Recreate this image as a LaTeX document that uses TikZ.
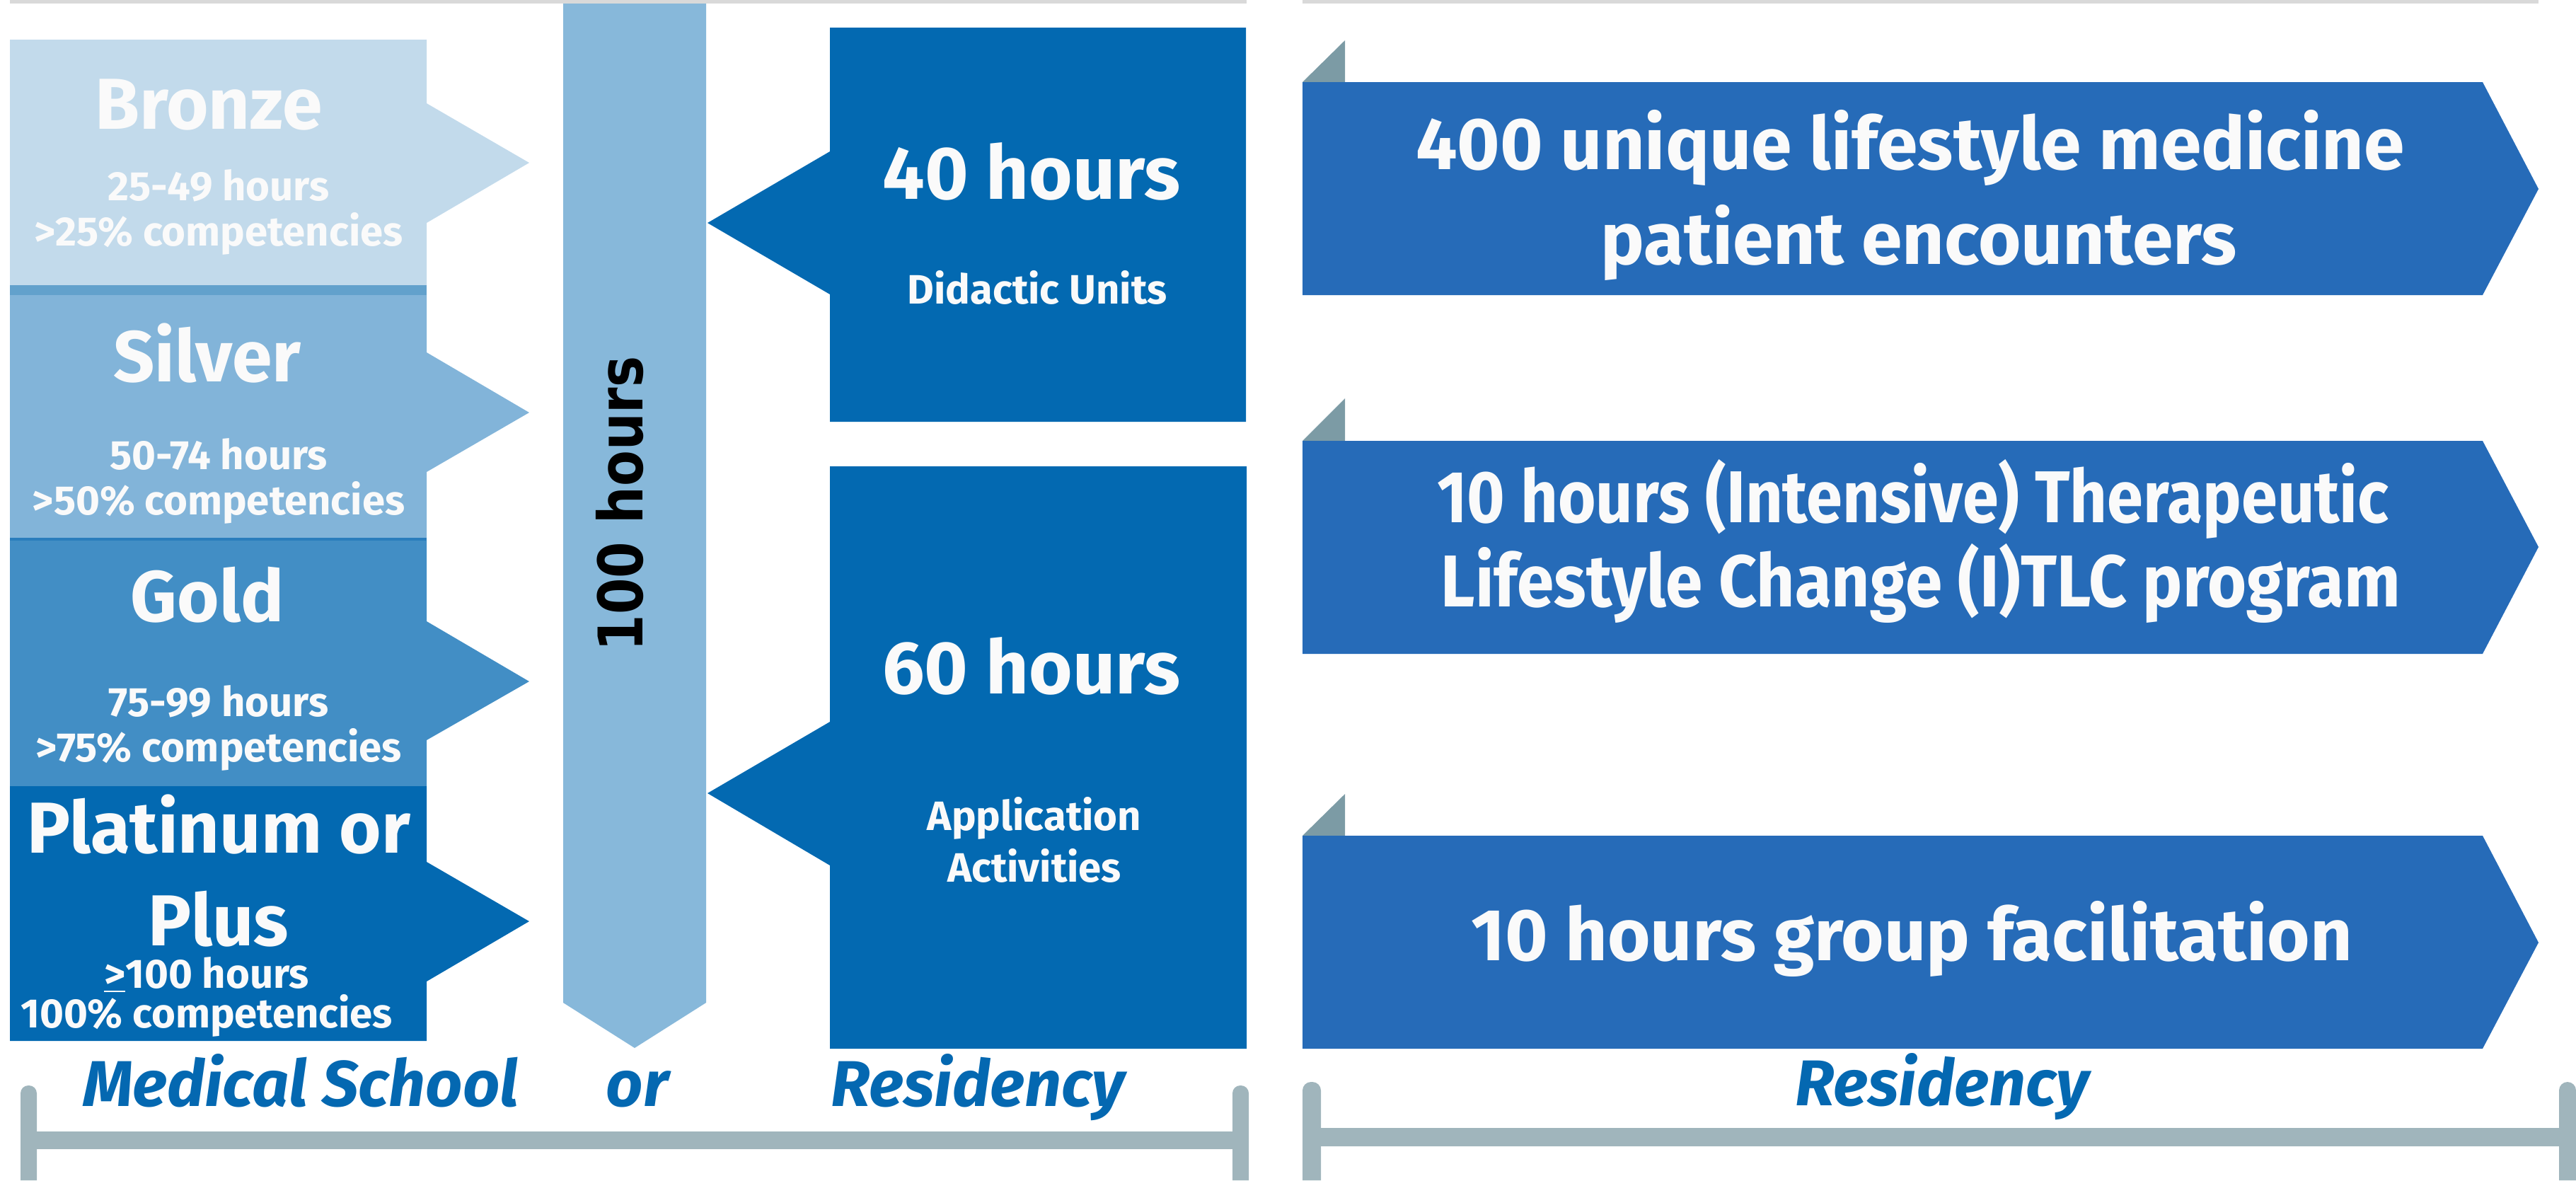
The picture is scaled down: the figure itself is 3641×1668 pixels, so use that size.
\documentclass[tikz,border=0pt]{standalone}
\usepackage{fontspec}
\setmainfont{Fira Sans}
\newfontfamily\hfont{DejaVu Sans}
\definecolor{bronze}{HTML}{C2DAEB}
\definecolor{sepA}{HTML}{62A1CC}
\definecolor{silver}{HTML}{82B4D9}
\definecolor{sepB}{HTML}{2A7DBC}
\definecolor{gold}{HTML}{428EC5}
\definecolor{plat}{HTML}{0369B1}
\definecolor{barc}{HTML}{87B8DA}
\definecolor{resb}{HTML}{266BB8}
\definecolor{fold}{HTML}{7C9BA5}
\definecolor{brk}{HTML}{A0B5BC}
\definecolor{topl}{HTML}{D9D9D9}
\definecolor{lab}{HTML}{0468B1}
\definecolor{txt}{HTML}{FAFAFA}
\tikzset{
  ttl/.style={font=\bfseries\fontsize{29pt}{34pt}\selectfont, text=txt, inner sep=0pt, anchor=base},
  tln/.style={font=\bfseries\fontsize{16.5pt}{20pt}\selectfont, text=txt, inner sep=0pt, anchor=base},
  big/.style={font=\bfseries\fontsize{30pt}{36pt}\selectfont, text=txt, inner sep=0pt, anchor=base},
  rtx/.style={font=\bfseries\fontsize{29.5pt}{36pt}\selectfont, text=txt, inner sep=0pt, anchor=base},
  lbl/.style={font=\bfseries\itshape\fontsize{26pt}{30pt}\selectfont, text=lab, inner sep=0pt, anchor=base},
}
\begin{document}
\begin{tikzpicture}[x=0.01cm, y=-0.01cm]
\useasboundingbox (0,0) rectangle (3641,1668);
% top grey lines
\fill[topl] (14,0) rectangle (1762,5);
\fill[topl] (1841,0) rectangle (3588,5);
% tiers
\fill[bronze] (14,56) -- (603,56) -- (603,146) -- (748,230) -- (603,315) -- (603,403) -- (14,403) -- cycle;
\fill[sepA] (14,403) rectangle (603,417);
\fill[silver] (14,417) -- (603,417) -- (603,498) -- (748,583) -- (603,667) -- (603,760) -- (14,760) -- cycle;
\fill[sepB] (14,760) rectangle (603,764);
\fill[gold] (14,764) -- (603,764) -- (603,878) -- (748,963) -- (603,1046) -- (603,1111) -- (14,1111) -- cycle;
\fill[plat] (14,1111) -- (603,1111) -- (603,1218) -- (748,1302) -- (603,1387) -- (603,1471) -- (14,1471) -- cycle;
% 100 hours bar
\fill[barc] (796,5) -- (998,5) -- (998,1417) -- (897,1481) -- (796,1417) -- cycle;
% 40 / 60 boxes
\fill[plat] (1173,39) -- (1761,39) -- (1761,596) -- (1173,596) -- (1173,416) -- (1000,315) -- (1173,214) -- cycle;
\fill[plat] (1173,659) -- (1762,659) -- (1762,1482) -- (1173,1482) -- (1173,1223) -- (1000,1121) -- (1173,1020) -- cycle;
% residency arrows
\fill[fold] (1841,116) -- (1901,57) -- (1901,116) -- cycle;
\fill[resb] (1841,116) -- (3509,116) -- (3588,267) -- (3509,417) -- (1841,417) -- cycle;
\fill[fold] (1841,623) -- (1901,563) -- (1901,623) -- cycle;
\fill[resb] (1841,623) -- (3509,623) -- (3588,773) -- (3509,924) -- (1841,924) -- cycle;
\fill[fold] (1841,1181) -- (1901,1122) -- (1901,1181) -- cycle;
\fill[resb] (1841,1181) -- (3509,1181) -- (3588,1332) -- (3509,1482) -- (1841,1482) -- cycle;
% brackets
\fill[brk] (29,1668) [rounded corners=0.11cm] -- (29,1534) -- (52,1534) [sharp corners] -- (52,1668) -- cycle;
\fill[brk] (1742,1668) [rounded corners=0.11cm] -- (1742,1534) -- (1765,1534) [sharp corners] -- (1765,1668) -- cycle;
\fill[brk] (29,1599) rectangle (1765,1624);
\fill[brk] (1841,1668) [rounded corners=0.12cm] -- (1841,1529) -- (1867,1529) [sharp corners] -- (1867,1668) -- cycle;
\fill[brk] (3617,1668) [rounded corners=0.12cm] -- (3617,1529) -- (3641,1529) [sharp corners] -- (3641,1668) -- cycle;
\fill[brk] (1841,1594) rectangle (3641,1620);
% tier texts
\node[ttl] (bz) at (295,182) {Bronze};
\node[tln] (bz1) at (309,283) {25-49 hours};
\node[tln] (bz2) at (309,347) {>25\% competencies};
\node[ttl] (sv) at (293,539) {Silver};
\node[tln] (sv1) at (309,663) {50-74 hours};
\node[tln] (sv2) at (309,727) {>50\% competencies};
\node[ttl] (gd) at (293,878) {Gold};
\node[tln] (gd1) at (309,1012) {75-99 hours};
\node[tln] (gd2) at (309,1076) {>75\% competencies};
\node[ttl] (pt) at (309,1205) {Platinum or};
\node[ttl] (pl) at (309,1336) {Plus};
\node[tln] (pl1) at (292,1396) {\underline{>}100 hours};
\node[tln] (pl2) at (292,1452) {100\% competencies};
% 100 hours
\node[font=\hfont\bfseries\fontsize{24.75pt}{30pt}\selectfont, text=black, inner sep=0pt, rotate=90] (hh) at (876,712) {\scalebox{0.85}[1]{100 hours}};
% 40 / 60
\node[big] (h40) at (1458,281) {40 hours};
\node[tln] (du) at (1466,429) {Didactic Units};
\node[big] (h60) at (1458,980) {60 hours};
\node[tln] (ap) at (1462,1173) {Application};
\node[tln] (ac) at (1462,1246) {Activities};
% residency texts
\node[rtx] (r1a) at (2700,239) {400 unique lifestyle medicine};
\node[rtx] (r1b) at (2712,373) {patient encounters};
\node[rtx] (r2a) at (2704,738) {\scalebox{0.885}[1]{10 hours (Intensive) Therapeutic}};
\node[rtx] (r2b) at (2715,857) {\scalebox{0.91}[1]{Lifestyle Change (I)TLC program}};
\node[rtx] (r3) at (2702,1357) {10 hours group facilitation};
% labels
\node[lbl] (ms) at (425,1563) {Medical School};
\node[lbl] (or) at (901,1563) {or};
\node[lbl] (rs1) at (1382,1563) {Residency};
\node[lbl] (rs2) at (2745,1562) {Residency};
\end{tikzpicture}
\end{document}
